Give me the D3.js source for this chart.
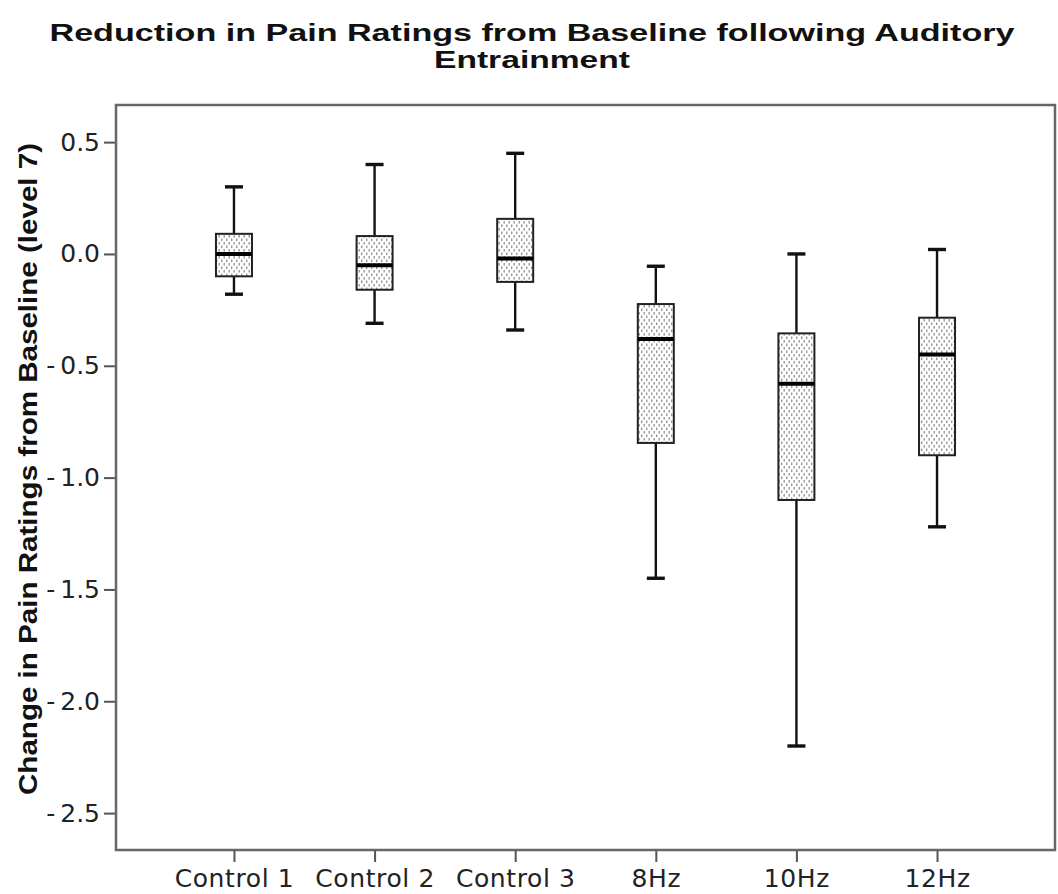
<!DOCTYPE html>
<html>
<head>
<meta charset="utf-8">
<script src="https://cdn.jsdelivr.net/npm/d3@7"></script>
<style>
  html, body { margin: 0; padding: 0; background: #fff; }
  svg { display: block; }
</style>
</head>
<body>
<svg id="chart" width="1058" height="894"></svg>
<script>
// Groups and five-number summaries (change from baseline)
const categories = ["Control 1", "Control 2", "Control 3", "8Hz", "10Hz", "12Hz"];
const whiskerLow  = [-0.18, -0.31, -0.34, -1.45, -2.20, -1.22];
const quartile1   = [-0.10, -0.16, -0.125, -0.845, -1.10, -0.90];
const medians     = [ 0.00, -0.05, -0.02, -0.38, -0.58, -0.45];
const quartile3   = [ 0.09,  0.08,  0.157, -0.224, -0.355, -0.285];
const whiskerHigh = [ 0.30,  0.40,  0.45, -0.055, 0.00,  0.02];
const yTicks = [0.5, 0.0, -0.5, -1.0, -1.5, -2.0, -2.5];

const titleLines = ["Reduction in Pain Ratings from Baseline following Auditory", "Entrainment"];
const yTitle = "Change in Pain Ratings from Baseline (level 7)";

const svg = d3.select("#chart");
const plot = { left: 116, right: 1055, top: 105, bottom: 850 };

const x = d3.scalePoint()
  .domain(categories)
  .range([plot.left, plot.right])
  .padding(0.839);

const y = d3.scaleLinear()
  .domain([-2.665, 0.666])
  .range([plot.bottom, plot.top]);

const rows = categories.map((c, i) => ({
  cat: c, lo: whiskerLow[i], q1: quartile1[i], med: medians[i], q3: quartile3[i], hi: whiskerHigh[i]
}));

// Stipple fill for the boxes
const defs = svg.append("defs");
const pat = defs.append("pattern")
  .attr("id", "stipple")
  .attr("patternUnits", "userSpaceOnUse")
  .attr("width", 5).attr("height", 7);
pat.append("rect").attr("width", 5).attr("height", 7).attr("fill", "#fff");
pat.append("rect").attr("x", 1).attr("y", 0.5).attr("width", 1.4).attr("height", 2.6).attr("fill", "#999");
pat.append("rect").attr("x", 3.5).attr("y", 4).attr("width", 1.4).attr("height", 2.6).attr("fill", "#999");

// Title
svg.append("g").selectAll("text")
  .data(titleLines)
  .join("text")
  .attr("x", 532)
  .attr("y", (d, i) => 41 + i * 27)
  .attr("text-anchor", "middle")
  .attr("font-family", "'Liberation Sans Narrow', 'Liberation Sans', sans-serif")
  .attr("font-weight", "bold")
  .attr("font-size", 24)
  .attr("textLength", (d, i) => i === 0 ? 965 : 196)
  .attr("lengthAdjust", "spacingAndGlyphs")
  .attr("fill", "#111")
  .text(d => d);

// Y axis title
svg.append("text")
  .attr("transform", "translate(37,469) rotate(-90)")
  .attr("text-anchor", "middle")
  .attr("font-family", "'Liberation Sans Narrow', 'Liberation Sans', sans-serif")
  .attr("font-weight", "bold")
  .attr("font-size", 25)
  .attr("textLength", 652)
  .attr("lengthAdjust", "spacingAndGlyphs")
  .attr("fill", "#111")
  .text(yTitle);

const fmt = d3.format(".1f");
const tickFmt = v => v < 0 ? "-\u2009" + fmt(-v) : fmt(v);

// Y axis
const yAxis = svg.append("g")
  .attr("transform", `translate(${plot.left},0)`)
  .call(d3.axisLeft(y).tickValues(yTicks).tickFormat(tickFmt).tickSize(12).tickSizeOuter(0).tickPadding(4));

// X axis
const xAxis = svg.append("g")
  .attr("transform", `translate(0,${plot.bottom})`)
  .call(d3.axisBottom(x).tickSize(12).tickSizeOuter(0).tickPadding(5));

[yAxis, xAxis].forEach(g => {
  g.select(".domain").remove();
  g.selectAll(".tick line").attr("stroke", "#555").attr("stroke-width", 2);
  g.selectAll(".tick text")
    .attr("font-family", "'DejaVu Sans', sans-serif")
    .attr("font-size", 25)
    .attr("fill", "#222");
});
xAxis.selectAll(".tick text")
  .attr("dy", "0.8em")
  .attr("letter-spacing", 0.6);

// Plot frame
svg.append("rect")
  .attr("x", plot.left).attr("y", plot.top)
  .attr("width", plot.right - plot.left)
  .attr("height", plot.bottom - plot.top)
  .attr("fill", "none")
  .attr("stroke", "#666")
  .attr("stroke-width", 2.5);

// Box plots
const boxW = 36, capW = 18;
const g = svg.append("g").selectAll("g").data(rows).join("g");

g.append("line")
  .attr("x1", d => x(d.cat)).attr("x2", d => x(d.cat))
  .attr("y1", d => y(d.hi)).attr("y2", d => y(d.q3))
  .attr("stroke", "#111").attr("stroke-width", 2.4);
g.append("line")
  .attr("x1", d => x(d.cat)).attr("x2", d => x(d.cat))
  .attr("y1", d => y(d.q1)).attr("y2", d => y(d.lo))
  .attr("stroke", "#111").attr("stroke-width", 2.4);
g.selectAll(".cap")
  .data(d => [{ cat: d.cat, v: d.hi }, { cat: d.cat, v: d.lo }])
  .join("line")
  .attr("class", "cap")
  .attr("x1", d => x(d.cat) - capW / 2).attr("x2", d => x(d.cat) + capW / 2)
  .attr("y1", d => y(d.v)).attr("y2", d => y(d.v))
  .attr("stroke", "#111").attr("stroke-width", 3.4);
g.append("rect")
  .attr("x", d => x(d.cat) - boxW / 2)
  .attr("width", boxW)
  .attr("y", d => y(d.q3))
  .attr("height", d => y(d.q1) - y(d.q3))
  .attr("fill", "url(#stipple)")
  .attr("stroke", "#222")
  .attr("stroke-width", 2);
g.append("line")
  .attr("x1", d => x(d.cat) - boxW / 2).attr("x2", d => x(d.cat) + boxW / 2)
  .attr("y1", d => y(d.med)).attr("y2", d => y(d.med))
  .attr("stroke", "#000").attr("stroke-width", 4);
</script>
</body>
</html>
